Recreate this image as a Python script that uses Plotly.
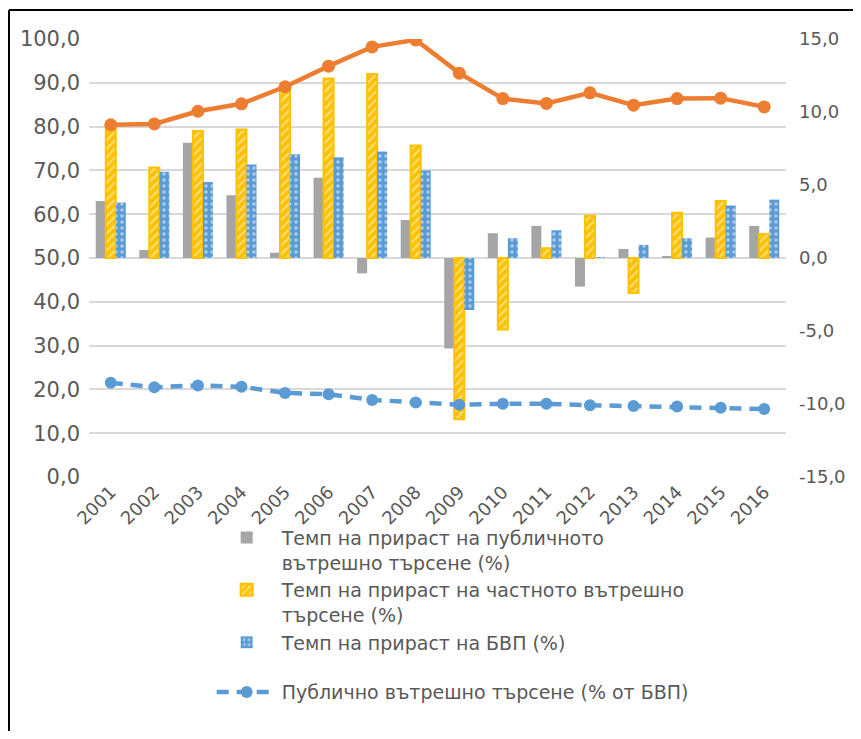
import plotly.graph_objects as go

years = [str(y) for y in range(2001, 2017)]

# темп на прираст (%), дясна ос
public_growth = [3.9, 0.55, 7.9, 4.3, 0.36, 5.5, -1.05, 2.6, -6.2, 1.7, 2.2, -1.96, 0.62, 0.14, 1.4, 2.2]
private_growth = [8.9, 6.2, 8.7, 8.8, 11.5, 12.3, 12.6, 7.7, -11.05, -4.9, 0.66, 2.9, -2.4, 3.1, 3.9, 1.64]
gdp_growth = [3.8, 5.9, 5.2, 6.4, 7.1, 6.9, 7.3, 6.0, -3.56, 1.35, 1.9, 0.05, 0.9, 1.35, 3.6, 4.0]

# % от БВП, лява ос
private_share = [80.4, 80.6, 83.5, 85.2, 89.1, 93.8, 98.2, 99.8, 92.2, 86.4, 85.3, 87.7, 84.9, 86.4, 86.5, 84.5]
public_share = [21.5, 20.5, 20.9, 20.6, 19.2, 18.9, 17.6, 17.0, 16.5, 16.7, 16.7, 16.4, 16.2, 16.1, 15.8, 15.5]

# надписи на осите
left_ticks = [0, 10, 20, 30, 40, 50, 60, 70, 80, 90, 100]
left_labels = ["0,0", "10,0", "20,0", "30,0", "40,0", "50,0", "60,0", "70,0", "80,0", "90,0", "100,0"]
right_ticks = [-15, -10, -5, 0, 5, 10, 15]
right_labels = ["-15,0", "-10,0", "-5,0", "0,0", "5,0", "10,0", "15,0"]

names = [
    "Темп на прираст на публичното<br>вътрешно търсене (%)",
    "Темп на прираст на частното вътрешно<br>търсене (%)",
    "Темп на прираст на БВП (%)",
    "Публично вътрешно търсене (% от БВП)",
]

FONT = "DejaVu Sans"
GREY_TXT = "#595959"

fig = go.Figure()

fig.add_trace(go.Bar(
    x=years, y=public_growth, name=names[0], legendgroup="a",
    marker=dict(color="#A5A5A5", line=dict(width=0)),
))
fig.add_trace(go.Bar(
    x=years, y=private_growth, name=names[1], legendgroup="a",
    marker=dict(color="#FFC000", line=dict(color="#FFC000", width=2),
                pattern=dict(shape="/", fgcolor="white", bgcolor="#FFC000",
                             size=6, solidity=0.35)),
))
fig.add_trace(go.Bar(
    x=years, y=gdp_growth, name=names[2], legendgroup="a",
    marker=dict(color="#5B9BD5", line=dict(width=0),
                pattern=dict(shape=".", fgcolor="white", bgcolor="#5B9BD5",
                             size=6, solidity=0.25)),
))

fig.add_trace(go.Scatter(
    x=years, y=private_share, yaxis="y2", mode="lines+markers",
    line=dict(color="#ED7D31", width=4.5), marker=dict(size=13, color="#ED7D31"),
    showlegend=False,
))
fig.add_trace(go.Scatter(
    x=years, y=public_share, yaxis="y2", mode="lines+markers", name=names[3],
    legendgroup="b",
    line=dict(color="#5B9BD5", width=4.5, dash="12px,8px"),
    marker=dict(size=12, color="#5B9BD5"),
))

# празна следа за дясната ос
fig.add_trace(go.Scatter(x=[years[0]], y=[None], yaxis="y3", showlegend=False, hoverinfo="skip"))

# страницата има 8px отстъп, затова фигурата е малко по-малка
fig.update_layout(
    width=853, height=723,
    margin=dict(l=81, r=75, t=31, b=254),
    paper_bgcolor="white", plot_bgcolor="white",
    barmode="group", bargap=0.31, bargroupgap=0,
    font=dict(family=FONT, color=GREY_TXT, size=18),
    xaxis=dict(
        range=[-0.5, 15.5],
        tickangle=-45, tickfont=dict(size=18, color=GREY_TXT),
        showgrid=False, showline=False, ticks="", automargin=False,
    ),
    # бар-ос (скрита, дава мрежата)
    yaxis=dict(
        range=[-15, 15], tick0=-15, dtick=3, showticklabels=False,
        showgrid=True, gridcolor="#D9D9D9", gridwidth=1.5,
        zeroline=False, ticks="", automargin=False,
    ),
    yaxis2=dict(
        range=[0, 100], tickmode="array", tickvals=left_ticks, ticktext=left_labels,
        overlaying="y", side="left", showgrid=False, zeroline=False,
        tickfont=dict(size=21, color=GREY_TXT), ticks="", ticklabelstandoff=8,
        automargin=False,
    ),
    yaxis3=dict(
        range=[-15, 15], tickmode="array", tickvals=right_ticks, ticktext=right_labels,
        overlaying="y", side="right", showgrid=False, zeroline=False,
        tickfont=dict(size=18, color=GREY_TXT), ticks="", ticklabelstandoff=12,
        automargin=False,
    ),
    legend=dict(
        x=0.176, xanchor="left", y=-0.095, yanchor="top",
        font=dict(size=19, color=GREY_TXT, family=FONT),
        traceorder="grouped", tracegroupgap=22, valign="top",
        itemwidth=60, bgcolor="rgba(0,0,0,0)",
    ),
)

# рамка (лява и горна линия)
fig.add_shape(type="line", xref="paper", yref="paper", x0=-0.1148, x1=-0.1148, y0=1.066, y1=-0.7,
              line=dict(color="black", width=2))
fig.add_shape(type="line", xref="paper", yref="paper", x0=-0.1148, x1=1.2, y0=1.066, y1=1.066,
              line=dict(color="black", width=2))

fig.write_html("out.html")
